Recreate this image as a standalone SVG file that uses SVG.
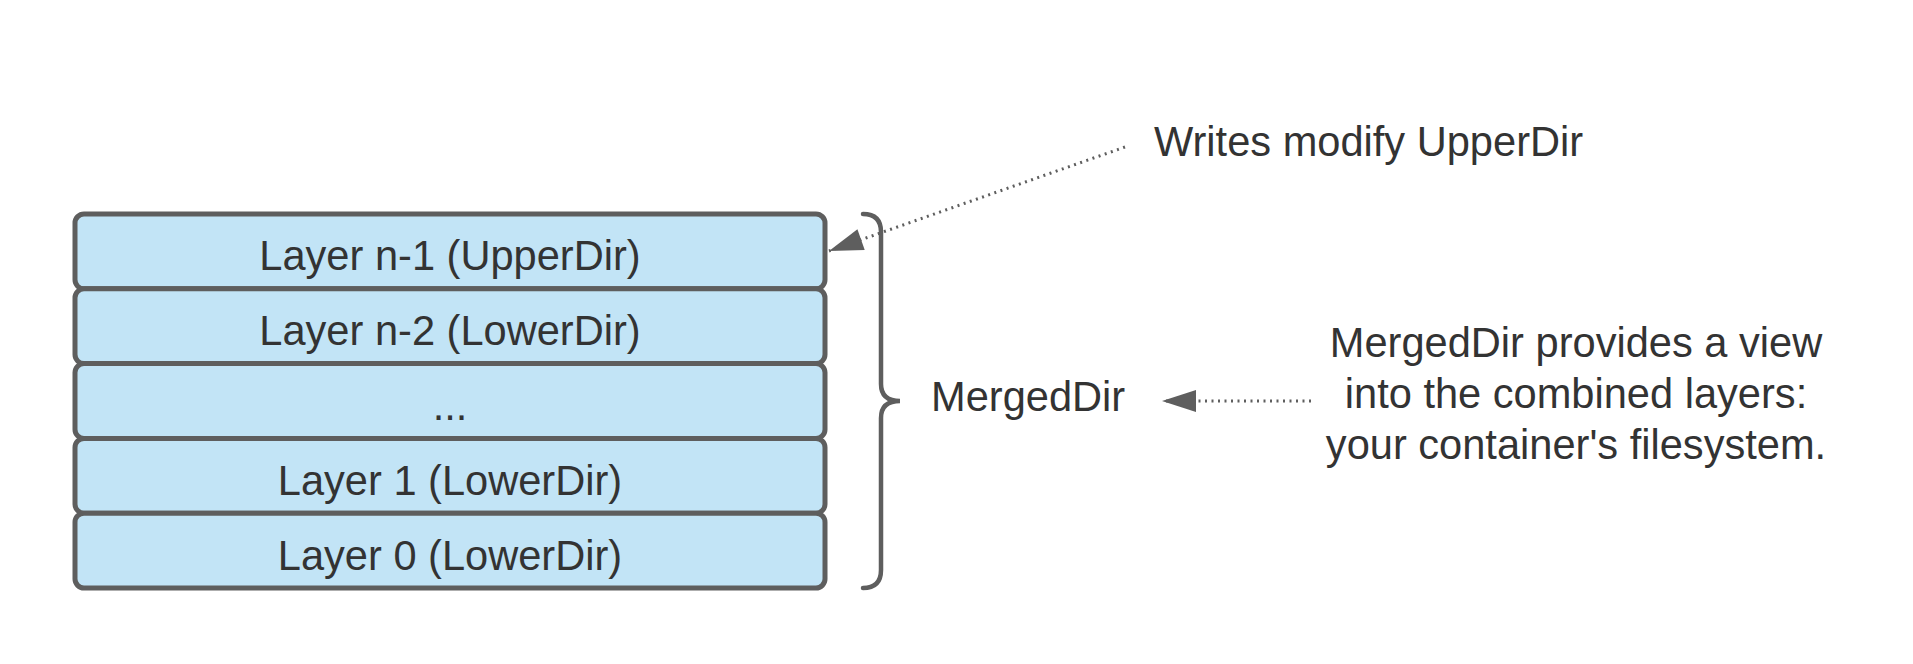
<svg xmlns="http://www.w3.org/2000/svg" width="1913" height="664" viewBox="0 0 1913 664">
<style>
.layer{fill:#c2e4f6;stroke:#5e5e5e;stroke-width:5}
.t{font-family:"Liberation Sans",Arial,sans-serif;font-size:41.6px;fill:#333333}
.c{text-anchor:middle}
.dot{fill:none;stroke:#5e5e5e;stroke-width:3;stroke-dasharray:2 4.5}
.brace{fill:none;stroke:#5e5e5e;stroke-width:4.5;stroke-linecap:round}
</style>
<defs>
<marker id="ah" markerUnits="userSpaceOnUse" viewBox="-36 -12 37 24" refX="0" refY="0" markerWidth="37" markerHeight="24" orient="auto" overflow="visible">
<path d="M-34,-11 L0,0 L-34,11 z" fill="#5e5e5e"/>
</marker>
</defs>
<rect width="1913" height="664" fill="#ffffff"/>
<g id="layer-n-1">
<rect class="layer" x="75" y="214" width="750" height="74.8" rx="9"/>
<text class="t c" x="450" y="270">Layer n-1 (UpperDir)</text>
</g>
<g id="layer-n-2">
<rect class="layer" x="75" y="288.8" width="750" height="74.8" rx="9"/>
<text class="t c" x="450" y="345">Layer n-2 (LowerDir)</text>
</g>
<g id="layer-dots">
<rect class="layer" x="75" y="363.6" width="750" height="74.8" rx="9"/>
<text class="t c" x="450" y="420">...</text>
</g>
<g id="layer-1">
<rect class="layer" x="75" y="438.4" width="750" height="74.8" rx="9"/>
<text class="t c" x="450" y="495">Layer 1 (LowerDir)</text>
</g>
<g id="layer-0">
<rect class="layer" x="75" y="513.2" width="750" height="74.8" rx="9"/>
<text class="t c" x="450" y="570">Layer 0 (LowerDir)</text>
</g>
<g id="merged">
<path class="brace" d="M863,214 Q881,214 881,232 L881,384 Q881,401 900,401 Q881,401 881,418 L881,570 Q881,588 863,588"/>
<text class="t" x="931" y="411">MergedDir</text>
</g>
<g id="note-writes">
<text class="t" x="1154" y="156">Writes modify UpperDir</text>
</g>
<g id="note-merged">
<text class="t c" x="1576" y="357">MergedDir provides a view</text>
<text class="t c" x="1576" y="408">into the combined layers:</text>
<text class="t c" x="1576" y="459">your container's filesystem.</text>
</g>
<g id="connectors">
<path class="dot" d="M1125,147 L829,251" marker-end="url(#ah)"/>
<path class="dot" d="M1311,401 L1162,401" marker-end="url(#ah)"/>
</g>
</svg>
